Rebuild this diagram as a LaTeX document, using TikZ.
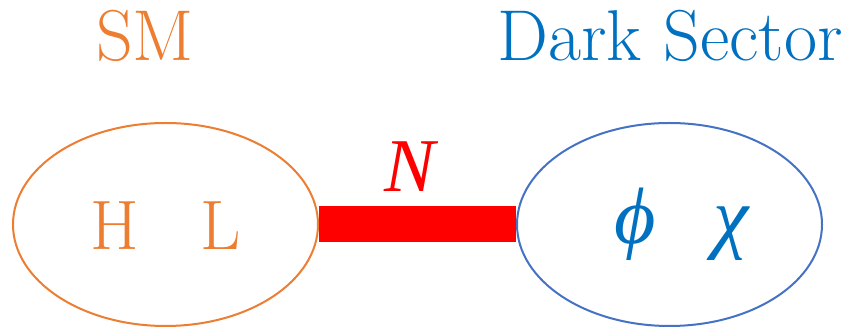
\documentclass[tikz,border=0pt]{standalone}
\usepackage{fontspec}
\newfontfamily\tnr{Liberation Serif}
\usetikzlibrary{shapes.geometric}
\definecolor{smorange}{HTML}{ED7D31}
\definecolor{dsline}{HTML}{4472C4}
\definecolor{dstext}{HTML}{0070C0}
\definecolor{nred}{HTML}{FF0000}
\tikzset{
  sector/.style={draw, ellipse, line width=2pt, minimum width=305pt, minimum height=203pt, inner sep=0pt},
  heading/.style={inner sep=0pt, anchor=base, font=\fontsize{72}{78}\selectfont},
  particle/.style={inner sep=0pt, anchor=base, font=\fontsize{70}{76}\selectfont},
  greek/.style={inner sep=0pt, anchor=base, font=\tnr\itshape\fontsize{80}{86}\selectfont},
}
\begin{document}
\begin{tikzpicture}[x=1pt,y=1pt]
\useasboundingbox (0,0) rectangle (856,331);
\node[sector, smorange] (sm) at (165.5,106.5) {};
\node[sector, dsline] (ds) at (669.5,106.5) {};
\draw[nred, line width=36pt] (sm.east) -- (ds.west);
\node[heading, text=smorange] (smlabel) at (145,270) {SM};
\node[heading, text=dstext] (dslabel) at (670,270) {Dark Sector};
\node[particle, text=smorange] (h) at (115,81) {H};
\node[particle, text=smorange] (l) at (221,81) {L};
\node[greek, text=dstext] (phi) at (635,87) {ϕ};
\node[greek, text=dstext] (chi) at (731,87) {χ};
\node[greek, text=nred, font=\tnr\itshape\fontsize{76}{82}\selectfont] (n) at (410,139) {N};
\end{tikzpicture}
\end{document}
